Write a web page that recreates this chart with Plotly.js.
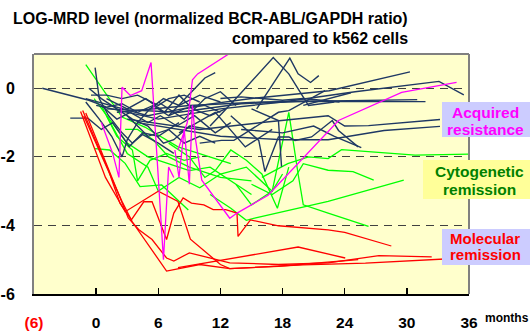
<!DOCTYPE html>
<html><head><meta charset="utf-8">
<script src="https://cdn.plot.ly/plotly-3.0.1.min.js"></script>
<style>html,body{margin:0;padding:0;background:#fff}#c{width:530px;height:333px}</style>
</head><body><div id="c"></div>
<script>
// ---- data (months, log MRD) ----
const navyX = [
 [-5.2,-0.7,1.0,2.5,4.0,5.5,7.0,8.5,10.5,12.0],
 [-2.5,-0.8,0.5,1.6,3.2,4.5,6.0,8.0],
 [-0.7,0.5,2.0,3.5,5.0,6.5,7.5,9.0,11.0],
 [-1.0,0.3,1.5,2.5,3.0,4.0,5.2,6.5,8.0,10.0,12.0],
 [-0.5,1.0,2.5,4.0,6.0,7.0,8.5,10.0],
 [-0.1,0.3,1.2,2.5,3.5,4.5,6.0,7.5],
 [0.5,2.0,3.3,5.0,6.2,7.8,9.5,11.5,13.0],
 [1.0,3.0,4.8,6.6,8.0,9.3,11.0,12.5],
 [3.0,5.0,7.0,8.5,10.0,11.5],
 [6.0,8.5,10.5,12.0,13.5],
 [7.0,8.6,10.5,11.5],
 [8.0,11.5,14.4,15.4,17.0],
 [10.0,12.1,13.3,17.6,18.6,22.1],
 [13.0,15.7,16.3,17.6,18.6,19.2,20.8,21.8,22.8,23.4,25.3],
 [15.0,17.6,17.9],
 [12.0,14.0,16.0,18.0,20.0,23.5],
 [11.0,13.5,17.1,18.6,20.5,23.0],
 [15.5,18.7,19.5,20.7,21.5],
 [-1.0,5.0,10.0,15.0,22.5,30.3],
 [0.0,6.0,12.0,18.0,25.0,33.1,35.5],
 [1.0,8.0,14.0,20.0,31.8],
 [2.0,9.0,16.0,31.0],
 [3.0,10.0,16.0,22.4,24.0,26.3,33.2],
 [4.0,12.0,18.0,22.4,27.8,33.2],
 [14.0,18.0,21.0,23.0,25.6],
 [20.0,24.6]
];
const navyY = [
 [0.0,-0.35,-0.55,-0.45,-0.7,-0.5,-0.8,-0.6,-0.5,-0.7],
 [-0.87,-0.87,-1.2,-1.0,-1.7,-1.3,-1.4,-1.0],
 [0.0,-0.3,-0.6,-0.9,-1.1,-1.6,-1.5,-1.1,-1.2],
 [-0.4,-0.9,-1.4,-2.0,-1.5,-1.0,-0.6,-0.3,-0.5,-0.2,-0.4],
 [-0.2,-0.2,-0.3,-0.2,-0.5,-0.3,-0.2,-0.4],
 [0.6,-0.3,-0.8,-1.3,-1.6,-1.35,-1.6,-1.9],
 [-0.5,-0.9,-0.7,-1.0,-0.8,-1.1,-0.8,-1.3,-1.0],
 [-0.3,-0.6,-0.3,-0.7,-0.2,-0.6,-0.8,-0.6],
 [-0.8,-1.4,-1.2,-1.6,-1.4,-1.6],
 [-0.4,-0.9,-0.3,-0.1,-0.5],
 [-0.8,-0.3,0.3,0.46],
 [-1.3,-0.7,-1.71,-1.52,-1.2],
 [-1.6,-1.52,-1.52,-0.7,-0.65,-0.07],
 [-0.8,-1.52,-2.43,-1.42,-1.42,-1.52,-1.42,-1.18,-0.94,-1.23,-1.71],
 [-0.6,-0.94,-2.29],
 [-0.3,-0.25,-0.3,-0.35,-0.3,-0.4],
 [-1.1,-0.3,0.9,0.42,-0.5,-0.4],
 [-0.6,0.88,0.42,0.17,0.37],
 [-0.3,-0.8,-0.5,-0.3,-0.07,0.48],
 [-0.5,-0.9,-0.6,-0.4,-0.1,0.2,-0.19],
 [-0.6,-0.7,-0.45,-0.38,-0.39],
 [-0.7,-0.5,-0.4,-0.33],
 [-0.9,-1.2,-1.0,-0.8,-1.1,-1.09,-0.91],
 [-1.0,-1.4,-1.5,-1.5,-1.23,-1.11],
 [-1.2,-1.3,-1.1,-1.4,-1.73],
 [-0.5,-0.13]
];
const greenX = [
 [-1.0,2.5,4.7,7.9,9.9,11.5,13.0],
 [-0.2,1.5,3.0,5.0,7.0,9.0,11.0,13.0,15.0],
 [-0.1,1.3,2.8,4.24,6.33,8.9],
 [0.5,2.0,3.5,4.0,5.2,6.8,8.5,10.0],
 [1.0,3.0,5.0,6.0,8.0,10.0,12.0,14.5,17.0,18.0],
 [13.5,15.0,17.0,18.0,18.6,19.5,20.0,22.4,26.3],
 [11.0,13.0,14.5,15.3,22.4,29.7],
 [16.0,18.5,20.5,22.4,23.7,30.8,36.0],
 [15.0,17.0,19.0,20.0,22.4,24.8,26.8],
 [7.0,9.0,10.5,11.5,13.0,14.5,16.0,17.5,18.6],
 [2.8,4.0,5.5,7.0,9.0,12.0,15.0]
];
const greenY = [
 [0.69,-0.84,-1.13,-1.71,-1.9,-2.05,-2.2],
 [-0.3,-1.0,-1.6,-2.0,-2.2,-2.4,-2.3,-2.7,-3.1],
 [-1.76,-1.8,-2.19,-2.87,-2.82,-3.55],
 [-0.5,-1.4,-1.8,-2.7,-2.1,-1.9,-2.1,-2.0],
 [-0.8,-1.9,-2.3,-3.0,-2.6,-2.9,-2.5,-2.3,-3.0,-2.5],
 [-2.8,-3.4,-3.0,-1.6,-0.7,-2.5,-3.4,-3.64,-4.03],
 [-3.1,-3.5,-3.85,-3.79,-3.3,-2.68],
 [-2.6,-2.2,-2.0,-2.05,-1.79,-1.95,-1.92],
 [-2.8,-3.1,-2.7,-2.2,-2.39,-2.43,-2.68],
 [-1.6,-2.0,-2.6,-2.4,-1.8,-2.1,-2.5,-3.5,-2.3],
 [-1.2,-1.2,-1.5,-2.0,-2.3,-2.6,-2.7]
];
const redX = [
 [-1.3,1.2,2.3,3.4,4.6,5.4,6.8,7.5,8.4,9.2,10.4,11.3,12.5,13.6,13.7,14.9,17.6,22.4,24.0,28.5],
 [-1.0,3.1,4.1,5.4,6.8,7.5,9.0,10.8,12.9,17.6,22.4,27.3,32.4],
 [-1.2,2.5,3.5,6.8,10.0,12.9,20.0,26.0,35.5],
 [-1.5,0.9,2.8,6.0,7.9,9.1,12.0,12.9,17.6,25.3],
 [7.9,19.5,24.05]
];
const redY = [
 [-0.65,-2.4,-3.35,-3.84,-3.31,-3.31,-4.41,-3.64,-3.2,-3.35,-3.4,-3.54,-3.54,-3.64,-4.32,-3.84,-4.01,-4.13,-4.2,-4.6],
 [-0.72,-3.78,-4.12,-4.41,-4.95,-5.04,-4.8,-4.94,-5.09,-5.14,-5.09,-4.88,-4.92],
 [-0.8,-3.3,-3.9,-5.33,-5.14,-5.26,-5.15,-5.1,-4.95],
 [-0.68,-2.6,-3.6,-3.0,-3.3,-4.4,-5.14,-5.26,-5.19,-5.0],
 [-5.23,-4.63,-4.95]
];
const magentaX = [
 [0.5,1.6,2.2,2.5,3.3,4.4,5.3,6.5,7.0,7.5],
 [7.6,8.0,8.5,9.0,9.3,9.6,10.0,10.2,12.9,13.6,16.6,23.4,29.5,34.8],
 [7.9,8.8,9.3,9.8,12.8,13.5]
];
const magentaY = [
 [-1.0,-1.9,-2.6,0.03,-0.21,-0.07,0.75,-5.0,-2.3,-2.6],
 [-1.8,-2.6,-1.2,-2.8,-0.5,-1.5,-2.29,-2.68,-3.79,-3.64,-3.12,-0.94,-0.12,0.17],
 [-1.8,-1.0,0.25,0.42,1.0,1.2]
];
const xTickVals = [-6,0,6,12,18,24,30,36];
const xTickText = ['<span style="color:#FF0000">(6)</span>','0','6','12','18','24','30','36'];
const yTickVals = [-6,-4,-2,0];
const yTickText = ['-6','-4','-2','0'];

// ---- build ----
const traces = [];
function addGroup(X, Y, color, width) {
  X.forEach((xs, i) => traces.push({x: xs, y: Y[i], type: 'scatter', mode: 'lines',
    line: {color: color, width: width}, hoverinfo: 'skip', showlegend: false}));
}
addGroup(greenX, greenY, '#00FF00', 1.3);
addGroup(navyX, navyY, '#1F3864', 1.4);
addGroup(redX, redY, '#FF0000', 1.3);
addGroup(magentaX, magentaY, '#FF00FF', 1.3);

const M = {l: 34, r: 61, t: 54, b: 39};
const W = 530 - M.l - M.r, H = 333 - M.t - M.b;
const px = v => (v - M.l) / W;
const py = v => (M.t + H - v) / H;
const F = 'Arial, "Liberation Sans", sans-serif';

function txt(text, x, y, size, color, xanchor) {
  return {text: '<b>' + text + '</b>', x: px(x), y: py(y), xref: 'paper', yref: 'paper',
    xanchor: xanchor || 'center', yanchor: 'middle', showarrow: false, borderpad: 0,
    font: {family: F, size: size, color: color}};
}

const layout = {
  width: 530, height: 333, margin: M,
  paper_bgcolor: '#FFFFFF', plot_bgcolor: '#FFFFCC',
  showlegend: false,
  xaxis: {range: [-6, 36], tickvals: xTickVals, ticktext: xTickText,
    showgrid: false, zeroline: false, showline: true, linecolor: '#000000', linewidth: 2,
    ticks: 'inside', ticklen: 6, tickwidth: 1.5, tickcolor: '#000000',
    ticklabelstandoff: 13,
    tickfont: {family: F, size: 15.5, color: '#000000', weight: 'bold'}},
  yaxis: {range: [-6, 1], tickvals: yTickVals, ticktext: yTickText,
    showgrid: true, gridcolor: '#404040', gridwidth: 1.2, griddash: '8px,6px',
    zeroline: false, showline: true, linecolor: '#808080', linewidth: 2,
    ticks: '', ticklabelstandoff: 14,
    tickfont: {family: F, size: 16, color: '#000000', weight: 'bold'}},
  shapes: [
    {type: 'line', xref: 'paper', yref: 'paper', x0: 0, x1: 1, y0: 1, y1: 1, line: {color: '#808080', width: 2}, layer: 'above'},
    {type: 'line', xref: 'paper', yref: 'paper', x0: 1, x1: 1, y0: 0, y1: 1, line: {color: '#808080', width: 2}, layer: 'above'},
    {type: 'rect', xref: 'paper', yref: 'paper', x0: px(442), x1: px(532), y0: py(137), y1: py(102), fillcolor: '#CCCCFF', line: {width: 0}, layer: 'above'},
    {type: 'rect', xref: 'paper', yref: 'paper', x0: px(423), x1: px(532), y0: py(199), y1: py(160), fillcolor: '#FFFF99', line: {width: 0}, layer: 'above'},
    {type: 'rect', xref: 'paper', yref: 'paper', x0: px(442), x1: px(532), y0: py(265), y1: py(229), fillcolor: '#CCCCFF', line: {width: 0}, layer: 'above'}
  ],
  annotations: [
    txt('LOG-MRD level (normalized BCR-ABL/GAPDH ratio)', 409, 18, 16, '#000000', 'right'),
    txt('compared to k562 cells', 409, 38, 16, '#000000', 'right'),
    txt('Acquired', 486, 112.5, 15.5, '#FF00FF'),
    txt('resistance', 486, 129.5, 15.5, '#FF00FF'),
    txt('Cytogenetic', 479, 171, 15.5, '#008000'),
    txt('remission', 479, 189, 15.5, '#008000'),
    txt('Molecular', 485, 238.5, 15, '#FF0000'),
    txt('remission', 485, 254.5, 15, '#FF0000'),
    txt('months', 507, 318, 12, '#000000')
  ]
};
Plotly.newPlot('c', traces, layout, {staticPlot: true, displayModeBar: false});
</script></body></html>
